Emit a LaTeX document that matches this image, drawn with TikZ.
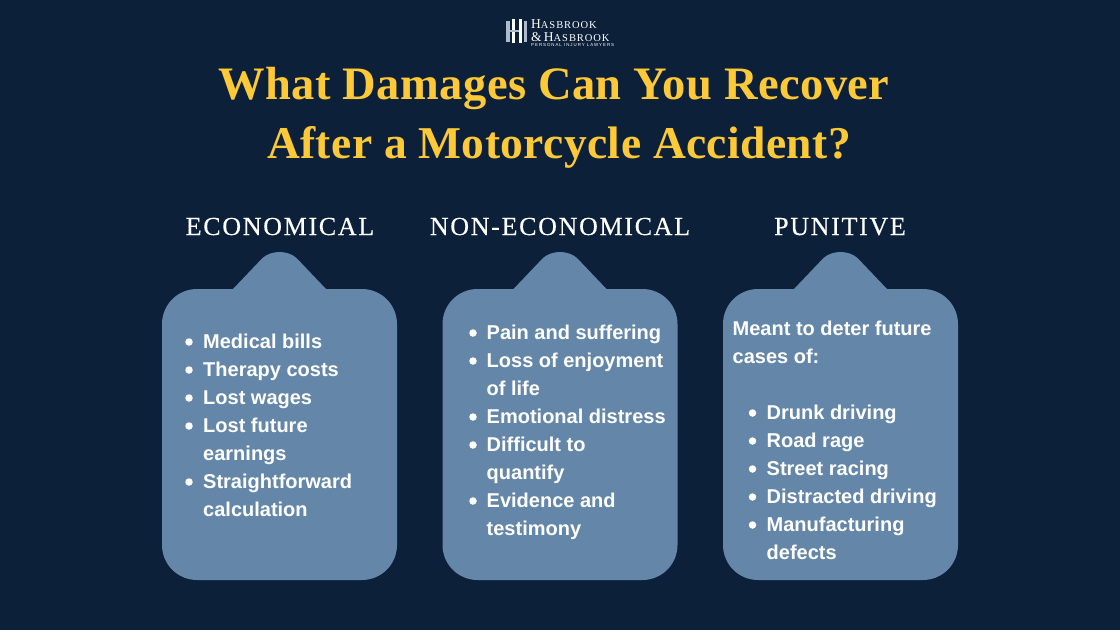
\documentclass[tikz,border=0pt]{standalone}
\usepackage{fontspec}
\setmainfont{Liberation Serif}
\newfontfamily\titlefonta[LetterSpace=0.9]{Liberation Serif}
\newfontfamily\titlefontb[LetterSpace=0.9]{Liberation Serif}
\newfontfamily\headfont[LetterSpace=6.5,FakeBold=0.35]{Liberation Serif}
\newfontfamily\bodyfont{Liberation Sans}
\newfontfamily\logofont[LetterSpace=9]{Liberation Serif}
\newfontfamily\logosmall[LetterSpace=22]{Liberation Sans}
\definecolor{bgnavy}{HTML}{0C2039}
\definecolor{cardblue}{HTML}{6487A9}
\definecolor{titleyellow}{HTML}{FDC936}
\definecolor{logogrey}{HTML}{AEBBCB}
\tikzset{
  titletext/.style={anchor=base,text=titleyellow,inner sep=0pt},
  headtext/.style={anchor=base,text=white,font=\headfont\fontsize{26}{26}\selectfont,inner sep=0pt},
  itemtext/.style={anchor=base west,text=white,font=\bodyfont\fontsize{20}{20}\selectfont\bfseries,inner sep=0pt},
  bulletdot/.style={circle,fill=white,minimum size=7.5pt,inner sep=0pt},
  card/.style={fill=cardblue,draw=none},
  logotext/.style={anchor=base west,text=white,inner sep=0pt,font=\logofont\fontsize{13.5}{13.5}\selectfont},
}
\newcommand{\cardshape}[1]{%
  \fill[card,shift={(#1,0)}]
    (-117.5,324) arc[start angle=180,end angle=270,radius=35]
    -- (-46.5,289) -- (-17,258)
    .. controls (-8,250) and (8,250) .. (17,258)
    -- (46.5,289) -- (82.5,289)
    arc[start angle=270,end angle=360,radius=35]
    -- (117.5,545) arc[start angle=0,end angle=90,radius=35]
    -- (-82.5,580) arc[start angle=90,end angle=180,radius=35] -- cycle;}
\begin{document}
\begin{tikzpicture}[x=1pt,y=-1pt]
\useasboundingbox (0,0) rectangle (1120,630);
\fill[bgnavy] (0,0) rectangle (1120,630);
% logo
\fill[logogrey] (506,21) rectangle (510,42);
\fill[white] (512,19) rectangle (515,43);
\fill[logogrey] (510,30) rectangle (522,32);
\fill[white] (519,19) rectangle (522,43);
\fill[logogrey] (524,21) rectangle (527,42);
\node[logotext] (logoa) at (531,28.5) {H\fontsize{10.5}{10.5}\selectfont ASBROOK};
\node[logotext] (logob) at (531,41) {\&\,H\fontsize{10.5}{10.5}\selectfont ASBROOK};
\node[logotext,font=\logosmall\fontsize{4.4}{4.4}\selectfont] (logoc) at (531,46) {PERSONAL INJURY LAWYERS};
% title
\node[titletext,font=\titlefonta\fontsize{46.5}{46.5}\selectfont\bfseries] (t1) at (554,99) {What Damages Can You Recover};
\node[titletext,font=\titlefontb\fontsize{45.5}{45.5}\selectfont\bfseries] (t2) at (559,158) {After a Motorcycle Accident?};
% headings
\node[headtext] (h1) at (280,235) {ECONOMICAL};
\node[headtext] (h2) at (560,235) {NON-ECONOMICAL};
\node[headtext] (h3) at (840,235) {PUNITIVE};
% cards
\cardshape{279.5}
\cardshape{560}
\cardshape{840.5}
% column 1
\foreach \yy/\tt/\bb in {348/Medical bills/1,376/Therapy costs/1,404/Lost wages/1,432/Lost future/1,460/earnings/0,488/Straightforward/1,516/calculation/0}{
  \node[itemtext] (a\yy) at (203,\yy) {\tt};
  \ifnum\bb=1 \node[bulletdot] (ab\yy) at (189,\yy-6) {};\fi
}
% column 2
\foreach \yy/\tt/\bb in {339/Pain and suffering/1,367/Loss of enjoyment/1,395/of life/0,423/Emotional distress/1,451/Difficult to/1,479/quantify/0,507/Evidence and/1,535/testimony/0}{
  \node[itemtext] (b\yy) at (486.5,\yy) {\tt};
  \ifnum\bb=1 \node[bulletdot] (bb\yy) at (473,\yy-6) {};\fi
}
% column 3
\node[itemtext] (c0) at (732.5,335) {Meant to deter future};
\node[itemtext] (c1) at (732.5,363) {cases of:};
\foreach \yy/\tt/\bb in {419/Drunk driving/1,447/Road rage/1,475/Street racing/1,503/Distracted driving/1,531/Manufacturing/1,559/defects/0}{
  \node[itemtext] (c\yy) at (766.5,\yy) {\tt};
  \ifnum\bb=1 \node[bulletdot] (cb\yy) at (752.5,\yy-6) {};\fi
}
\end{tikzpicture}
\end{document}
